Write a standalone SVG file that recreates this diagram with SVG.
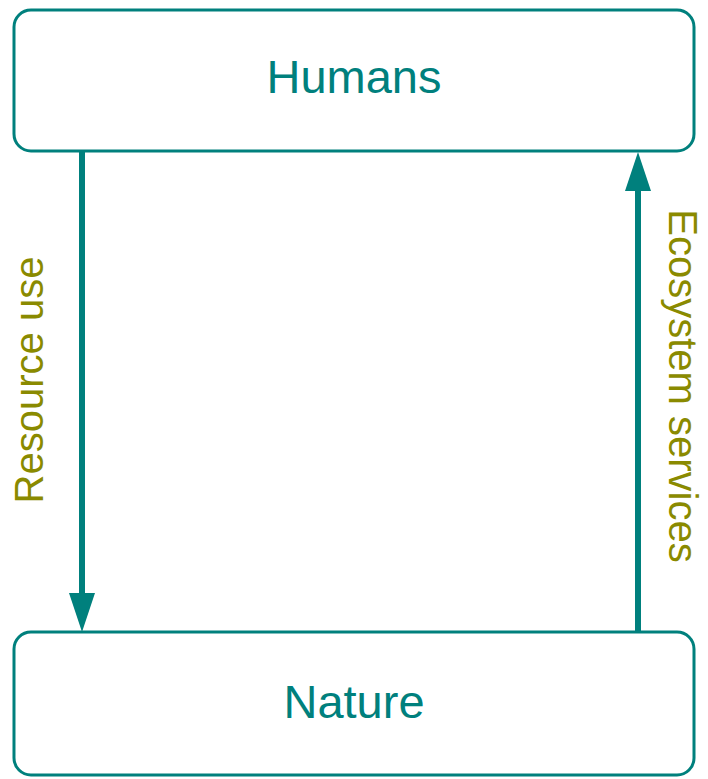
<svg xmlns="http://www.w3.org/2000/svg" width="708" height="779" viewBox="0 0 708 779">
<style>
.box{fill:#ffffff;stroke:#00807d;stroke-width:3}
.name{font-family:"Liberation Sans",Arial,sans-serif;font-size:47px;fill:#00807d;text-anchor:middle}
.lbl{font-family:"Liberation Sans",Arial,sans-serif;font-size:40px;fill:#8a8a00;text-anchor:middle}
.shaft{stroke:#00807d;stroke-width:6;fill:none}
.head{fill:#00807d}
</style>
<rect width="708" height="779" fill="#ffffff"/>
<g id="humans">
<rect class="box" x="14" y="10" width="680" height="141" rx="17"/>
<text class="name" x="354" y="93">Humans</text>
</g>
<g id="nature">
<rect class="box" x="14" y="632" width="680" height="143" rx="17"/>
<text class="name" x="354" y="718">Nature</text>
</g>
<g id="connectors">
<line class="shaft" x1="82" y1="150" x2="82" y2="596"/>
<polygon class="head" points="69,593 95,593 82,632"/>
<text class="lbl" transform="translate(43,380) rotate(-90)">Resource use</text>
<line class="shaft" x1="638" y1="632" x2="638" y2="188"/>
<polygon class="head" points="625,191 651,191 638,152"/>
<text class="lbl" transform="translate(669,386) rotate(90)">Ecosystem services</text>
</g>
</svg>
